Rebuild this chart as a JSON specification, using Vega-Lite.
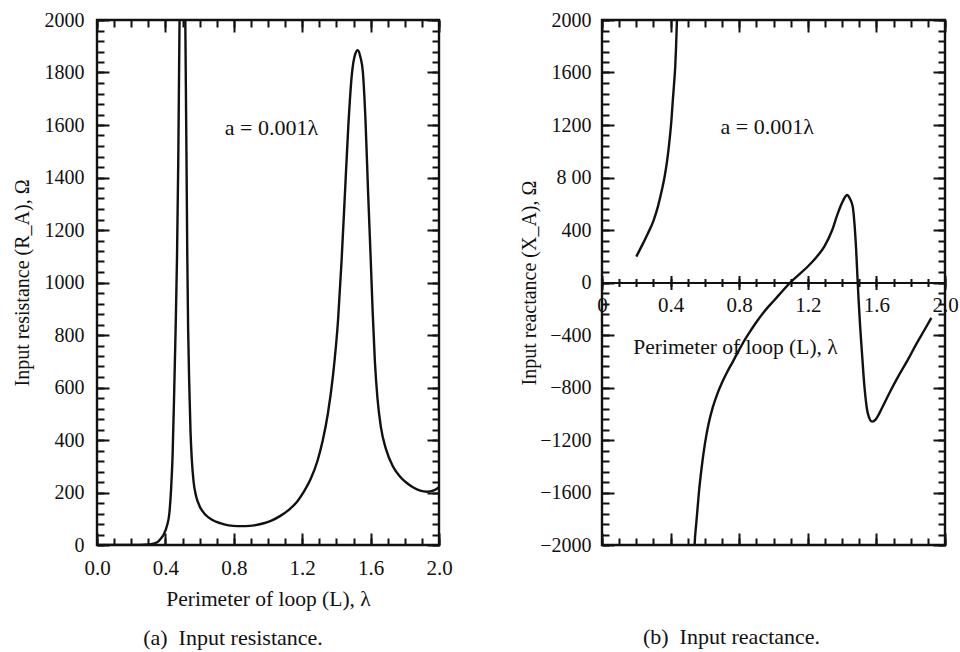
{
  "$schema": "https://vega.github.io/schema/vega-lite/v6.json",
  "background": "white",
  "padding": {"left": 10, "top": 8, "right": 0, "bottom": 0},
  "spacing": 163,
  "bounds": "flush",
  "config": {
    "font": "Liberation Serif",
    "view": {"stroke": "#111", "strokeWidth": 2.4},
    "axis": {
      "labelFont": "Liberation Serif",
      "titleFont": "Liberation Serif",
      "labelColor": "#111",
      "titleColor": "#111",
      "titleFontWeight": "normal",
      "domain": false,
      "ticks": false,
      "gridColor": "#111",
      "gridOpacity": 1,
      "gridWidth": 2,
      "labelFlush": false,
      "labelOverlap": false
    },
    "title": {"font": "Liberation Serif", "fontWeight": "normal", "fontSize": 22, "color": "#111"}
  },
  "hconcat": [
    {
      "width": 342,
      "height": 525,
      "title": {"text": "(a)\u00a0 Input resistance.", "orient": "bottom", "anchor": "middle", "dx": -35, "offset": 18},
      "data": {"values": [
        {"L": 0.0, "R": 0}, {"L": 0.1, "R": 0}, {"L": 0.2, "R": 0}, {"L": 0.3, "R": 2},
        {"L": 0.33, "R": 5}, {"L": 0.355, "R": 12}, {"L": 0.37, "R": 22}, {"L": 0.39, "R": 40},
        {"L": 0.41, "R": 75}, {"L": 0.423, "R": 120}, {"L": 0.433, "R": 210}, {"L": 0.442, "R": 340},
        {"L": 0.452, "R": 600}, {"L": 0.46, "R": 830}, {"L": 0.468, "R": 1100}, {"L": 0.475, "R": 1450},
        {"L": 0.482, "R": 1950}, {"L": 0.49, "R": 2400}, {"L": 0.5, "R": 2700}, {"L": 0.51, "R": 2450},
        {"L": 0.517, "R": 1950}, {"L": 0.523, "R": 1500}, {"L": 0.528, "R": 1100}, {"L": 0.533, "R": 820},
        {"L": 0.54, "R": 600}, {"L": 0.547, "R": 430}, {"L": 0.555, "R": 320}, {"L": 0.565, "R": 240},
        {"L": 0.58, "R": 185}, {"L": 0.6, "R": 148}, {"L": 0.63, "R": 118}, {"L": 0.67, "R": 97},
        {"L": 0.72, "R": 83}, {"L": 0.77, "R": 75}, {"L": 0.82, "R": 72}, {"L": 0.87, "R": 72},
        {"L": 0.92, "R": 75}, {"L": 0.97, "R": 82}, {"L": 1.02, "R": 93}, {"L": 1.07, "R": 110},
        {"L": 1.12, "R": 133}, {"L": 1.17, "R": 165}, {"L": 1.21, "R": 203}, {"L": 1.25, "R": 252},
        {"L": 1.29, "R": 322}, {"L": 1.32, "R": 398}, {"L": 1.35, "R": 500}, {"L": 1.38, "R": 645},
        {"L": 1.41, "R": 860}, {"L": 1.43, "R": 1080}, {"L": 1.45, "R": 1340}, {"L": 1.47, "R": 1600},
        {"L": 1.49, "R": 1790}, {"L": 1.51, "R": 1870}, {"L": 1.525, "R": 1885}, {"L": 1.54, "R": 1860},
        {"L": 1.555, "R": 1800}, {"L": 1.57, "R": 1620}, {"L": 1.585, "R": 1350}, {"L": 1.6, "R": 1100},
        {"L": 1.612, "R": 890}, {"L": 1.625, "R": 700}, {"L": 1.64, "R": 560}, {"L": 1.66, "R": 450},
        {"L": 1.69, "R": 365}, {"L": 1.73, "R": 300}, {"L": 1.77, "R": 262}, {"L": 1.81, "R": 237},
        {"L": 1.85, "R": 219}, {"L": 1.89, "R": 207}, {"L": 1.93, "R": 203}, {"L": 1.97, "R": 208},
        {"L": 2.0, "R": 220}
      ]},
      "layer": [
        {
          "mark": {"type": "line", "color": "#111", "strokeWidth": 2.4, "clip": true, "interpolate": "monotone"},
          "encoding": {
            "x": {"field": "L", "type": "quantitative", "scale": {"domain": [0, 2], "nice": false},
              "axis": {"orient": "bottom", "values": [0, 0.4, 0.8, 1.2, 1.6, 2.0], "format": ".1f",
                "labelFontSize": 21, "labelPadding": 12, "grid": true, "gridDash": [12, 501, 12, 100],
                "title": "Perimeter of loop (L), λ", "titleFontSize": 21.5, "titleY": 54, "titleBaseline": "middle"}},
            "y": {"field": "R", "type": "quantitative", "scale": {"domain": [0, 2000], "nice": false},
              "axis": {"orient": "left", "values": [0, 200, 400, 600, 800, 1000, 1200, 1400, 1600, 1800, 2000], "format": "d",
                "labelFontSize": 20, "labelPadding": 13, "grid": true, "gridDash": [12, 318, 12, 100],
                "title": "Input resistance (R_A), Ω", "titleFontSize": 20, "titleX": -75, "titleY": 262.5, "titleBaseline": "middle"}}
          }
        },
        {
          "transform": [{"filter": "datum.R <= 2000"}],
          "mark": {"type": "point", "opacity": 0},
          "encoding": {
            "x": {"field": "L", "type": "quantitative",
              "axis": {"orient": "top", "values": [0, 0.1, 0.2, 0.3, 0.4, 0.5, 0.6, 0.7, 0.8, 0.9, 1.0, 1.1, 1.2, 1.3, 1.4, 1.5, 1.6, 1.7, 1.8, 1.9, 2.0],
                "labels": false, "grid": true, "gridDash": [7, 511, 7, 100], "title": null}},
            "y": {"field": "R", "type": "quantitative",
              "axis": {"orient": "right", "values": [0, 40, 80, 120, 160, 200, 240, 280, 320, 360, 400, 440, 480, 520, 560, 600, 640, 680, 720, 760, 800, 840, 880, 920, 960, 1000, 1040, 1080, 1120, 1160, 1200, 1240, 1280, 1320, 1360, 1400, 1440, 1480, 1520, 1560, 1600, 1640, 1680, 1720, 1760, 1800, 1840, 1880, 1920, 1960, 2000],
                "labels": false, "grid": true, "gridDash": [7, 328, 7, 100], "title": null}}
          }
        },
        {
          "data": {"values": [{"note": "a = 0.001λ"}]},
          "mark": {"type": "text", "fontSize": 22, "font": "Liberation Serif", "color": "#111"},
          "encoding": {
            "text": {"field": "note", "type": "nominal"},
            "x": {"datum": 1.02, "axis": null},
            "y": {"datum": 1590, "axis": null}
          }
        }
      ],
      "resolve": {"axis": {"x": "independent", "y": "independent"}}
    },
    {
      "width": 343,
      "height": 525,
      "title": {"text": "(b)\u00a0 Input reactance.", "orient": "bottom", "anchor": "middle", "dx": -42, "offset": 72},
      "data": {"values": [
        {"L": 0.2, "X": 197, "b": 1}, {"L": 0.24, "X": 300, "b": 1}, {"L": 0.268, "X": 375, "b": 1},
        {"L": 0.3, "X": 470, "b": 1}, {"L": 0.326, "X": 578, "b": 1}, {"L": 0.35, "X": 710, "b": 1},
        {"L": 0.365, "X": 806, "b": 1}, {"L": 0.38, "X": 930, "b": 1}, {"L": 0.394, "X": 1086, "b": 1},
        {"L": 0.405, "X": 1240, "b": 1}, {"L": 0.413, "X": 1390, "b": 1}, {"L": 0.42, "X": 1510, "b": 1},
        {"L": 0.427, "X": 1644, "b": 1}, {"L": 0.432, "X": 1800, "b": 1}, {"L": 0.437, "X": 2000, "b": 1},
        {"L": 0.442, "X": 2200, "b": 1},
        {"L": 0.535, "X": -2200, "b": 2}, {"L": 0.54, "X": -2000, "b": 2}, {"L": 0.55, "X": -1830, "b": 2},
        {"L": 0.565, "X": -1600, "b": 2}, {"L": 0.582, "X": -1400, "b": 2}, {"L": 0.6, "X": -1230, "b": 2},
        {"L": 0.62, "X": -1085, "b": 2}, {"L": 0.645, "X": -955, "b": 2}, {"L": 0.672, "X": -850, "b": 2},
        {"L": 0.7, "X": -762, "b": 2}, {"L": 0.73, "X": -682, "b": 2}, {"L": 0.76, "X": -610, "b": 2},
        {"L": 0.795, "X": -525, "b": 2}, {"L": 0.831, "X": -440, "b": 2}, {"L": 0.87, "X": -360, "b": 2},
        {"L": 0.909, "X": -286, "b": 2}, {"L": 0.95, "X": -215, "b": 2}, {"L": 1.006, "X": -133, "b": 2},
        {"L": 1.05, "X": -68, "b": 2}, {"L": 1.093, "X": -6, "b": 2}, {"L": 1.15, "X": 62, "b": 2},
        {"L": 1.2, "X": 122, "b": 2}, {"L": 1.25, "X": 192, "b": 2}, {"L": 1.297, "X": 275, "b": 2},
        {"L": 1.34, "X": 392, "b": 2}, {"L": 1.375, "X": 527, "b": 2}, {"L": 1.405, "X": 622, "b": 2},
        {"L": 1.429, "X": 667, "b": 2}, {"L": 1.445, "X": 640, "b": 2}, {"L": 1.462, "X": 578, "b": 2},
        {"L": 1.472, "X": 450, "b": 2}, {"L": 1.482, "X": 248, "b": 2}, {"L": 1.491, "X": 0, "b": 2},
        {"L": 1.497, "X": -150, "b": 2}, {"L": 1.505, "X": -330, "b": 2}, {"L": 1.515, "X": -520, "b": 2},
        {"L": 1.53, "X": -790, "b": 2}, {"L": 1.55, "X": -997, "b": 2}, {"L": 1.575, "X": -1060, "b": 2},
        {"L": 1.595, "X": -1045, "b": 2}, {"L": 1.617, "X": -997, "b": 2}, {"L": 1.65, "X": -910, "b": 2},
        {"L": 1.685, "X": -819, "b": 2}, {"L": 1.73, "X": -710, "b": 2}, {"L": 1.783, "X": -590, "b": 2},
        {"L": 1.83, "X": -475, "b": 2}, {"L": 1.88, "X": -362, "b": 2}, {"L": 1.92, "X": -270, "b": 2}
      ]},
      "layer": [
        {
          "mark": {"type": "line", "color": "#111", "strokeWidth": 2.4, "clip": true, "interpolate": "monotone"},
          "encoding": {
            "detail": {"field": "b", "type": "nominal"},
            "x": {"field": "L", "type": "quantitative", "scale": {"domain": [0, 2], "nice": false},
              "axis": {"orient": "bottom", "offset": -262.5, "domain": true, "domainColor": "#111", "domainWidth": 2.2,
                "values": [0, 0.4, 0.8, 1.2, 1.6, 2.0], "labelExpr": "datum.value == 0 ? '0' : format(datum.value, '.1f')",
                "labelFontSize": 21, "labelPadding": 12, "grid": true, "gridDash": [12, 243.5, 14, 243.5, 12, 100],
                "title": "Perimeter of loop (L), λ", "titleFontSize": 21.5, "titleX": 133, "titleY": 65, "titleBaseline": "middle", "titleAlign": "center"}},
            "y": {"field": "X", "type": "quantitative", "scale": {"domain": [-2000, 2000], "nice": false},
              "axis": {"orient": "left", "values": [-2000, -1600, -1200, -800, -400, 0, 400, 800, 1200, 1600, 2000], "format": "d",
                "labelExpr": "datum.value == 800 ? '8 00' : datum.label",
                "labelFontSize": 20, "labelPadding": 11, "grid": true, "gridDash": [12, 319, 12, 100],
                "title": "Input reactance (X_A), Ω", "titleFontSize": 20, "titleX": -73, "titleY": 262.5, "titleBaseline": "middle"}}
          }
        },
        {
          "transform": [{"filter": "datum.X <= 2000 && datum.X >= -2000"}],
          "mark": {"type": "point", "opacity": 0},
          "encoding": {
            "x": {"field": "L", "type": "quantitative",
              "axis": {"orient": "top", "values": [0, 0.1, 0.2, 0.3, 0.4, 0.5, 0.6, 0.7, 0.8, 0.9, 1.0, 1.1, 1.2, 1.3, 1.4, 1.5, 1.6, 1.7, 1.8, 1.9, 2.0],
                "labels": false, "grid": true, "gridDash": [7, 251.5, 8, 251.5, 7, 100], "title": null}},
            "y": {"field": "X", "type": "quantitative",
              "axis": {"orient": "right", "values": [-2000, -1920, -1840, -1760, -1680, -1600, -1520, -1440, -1360, -1280, -1200, -1120, -1040, -960, -880, -800, -720, -640, -560, -480, -400, -320, -240, -160, -80, 0, 80, 160, 240, 320, 400, 480, 560, 640, 720, 800, 880, 960, 1040, 1120, 1200, 1280, 1360, 1440, 1520, 1600, 1680, 1760, 1840, 1920, 2000],
                "labels": false, "grid": true, "gridDash": [7, 329, 7, 100], "title": null}}
          }
        },
        {
          "data": {"values": [{"note": "a = 0.001λ"}]},
          "mark": {"type": "text", "fontSize": 22, "font": "Liberation Serif", "color": "#111"},
          "encoding": {
            "text": {"field": "note", "type": "nominal"},
            "x": {"datum": 0.963, "axis": null},
            "y": {"datum": 1185, "axis": null}
          }
        }
      ],
      "resolve": {"axis": {"x": "independent", "y": "independent"}}
    }
  ]
}
